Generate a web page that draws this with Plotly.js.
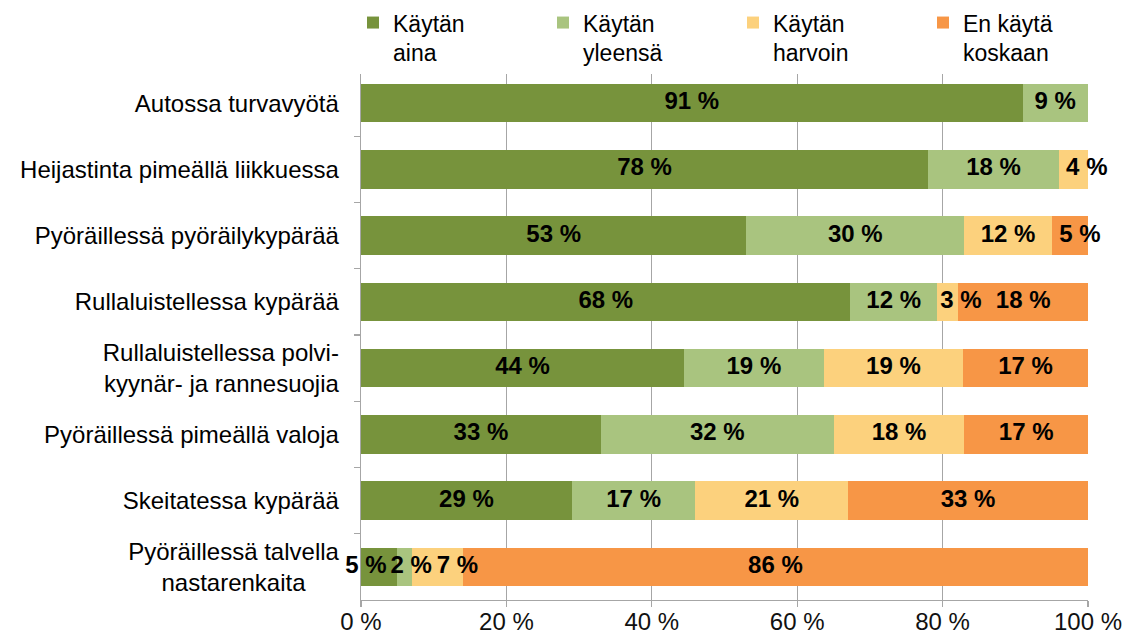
<!DOCTYPE html>
<html>
<head>
<meta charset="utf-8">
<script src="https://cdn.plot.ly/plotly-3.0.1.min.js"></script>
<style>html,body{margin:0;padding:0;background:#fff;}#chart{width:1129px;height:639px;}</style>
</head>
<body>
<div id="chart"></div>
<script>
const NB = "\u00a0";
const categories = [
  "Autossa turvavyötä",
  "Heijastinta pimeällä liikkuessa",
  "Pyöräillessä pyöräilykypärää",
  "Rullaluistellessa kypärää",
  "Rullaluistellessa polvi-<br>kyynär- ja rannesuojia",
  "Pyöräillessä pimeällä valoja",
  "Skeitatessa kypärää",
  "Pyöräillessä talvella<br>nastarenkaita" + NB.repeat(5)
];
const seriesNames = ["Käytän<br>aina", "Käytän<br>yleensä", "Käytän<br>harvoin", "En käytä<br>koskaan"];
const aina    = [91, 78, 53, 68, 44, 33, 29, 5];
const yleensa = [9, 18, 30, 12, 19, 32, 17, 2];
const harvoin = [0, 4, 12, 3, 19, 18, 21, 7];
const koskaan = [0, 0, 5, 18, 17, 17, 33, 86];
const xTicks = [0, 20, 40, 60, 80, 100];
const colors = ["#77933C", "#A9C47F", "#FCD17D", "#F79646"];

// label nudges (in non-breaking spaces; negative = shift left) mimicking the original label placement
const labelNudge = [
  [0, 0, 0, 0, 0, 0, 0, -4],
  [0, 0, 0, 0, 0, 0, 0, 2],
  [0, 4, 0, 4, 0, 0, 0, 6],
  [0, 0, 3, 0, 0, 0, 0, 0]
];

function label(v, n) {
  const t = v + " %";
  return n > 0 ? NB.repeat(n) + t : (n < 0 ? t + NB.repeat(-n) : t);
}

const seriesValues = [aina, yleensa, harvoin, koskaan];
const traces = seriesValues.map((vals, i) => ({
  type: "bar",
  orientation: "h",
  name: seriesNames[i],
  y: categories,
  x: vals,
  marker: {color: colors[i], line: {width: 0}},
  hoverinfo: "skip"
}));

// data labels drawn on top of all bars (positions derived from the normalised stack)
const totals = categories.map((_, j) => seriesValues.reduce((s, a) => s + a[j], 0));
const lx = [], ly = [], lt = [];
categories.forEach((c, j) => {
  let cum = 0;
  seriesValues.forEach((vals, i) => {
    const v = vals[j];
    if (v > 0) {
      lx.push((cum + v / 2) / totals[j] * 100);
      ly.push(c);
      lt.push(label(v, labelNudge[i][j]));
    }
    cum += v;
  });
});
traces.push({
  type: "scatter", mode: "text", x: lx, y: ly, text: lt,
  textposition: "middle center", cliponaxis: false, showlegend: false,
  textfont: {family: "Liberation Sans, Arial, sans-serif", size: 24, color: "#000", weight: "bold"},
  hoverinfo: "skip"
});

const layout = {
  width: 1129, height: 639,
  margin: {l: 361, r: 41, t: 70, b: 39, autoexpand: false},
  paper_bgcolor: "#fff", plot_bgcolor: "#fff",
  barmode: "stack",
  barnorm: "percent",
  bargap: 0.42,
  font: {family: "Liberation Sans, Arial, sans-serif", size: 24, color: "#000"},
  showlegend: true,
  legend: {
    orientation: "h", x: -0.011, xanchor: "left", y: 1.13, yanchor: "top",
    valign: "top", entrywidth: 145, entrywidthmode: "pixels",
    font: {size: 23, color: "#000"}, traceorder: "normal", itemclick: false
  },
  xaxis: {
    range: [0, 100.00001], tickvals: xTicks, ticktext: xTicks.map(v => v + " %"),
    showgrid: true, gridcolor: "#A6A6A6", gridwidth: 1.3,
    showline: true, linecolor: "#A6A6A6", linewidth: 1.3,
    ticks: "outside", ticklen: 6, tickcolor: "#A6A6A6", tickwidth: 1.3,
    ticklabelstandoff: -6,
    tickfont: {size: 24, color: "#111"}, zeroline: false, fixedrange: true
  },
  yaxis: {
    type: "category", autorange: "reversed",
    showline: true, linecolor: "#A6A6A6", linewidth: 1.3,
    ticks: "outside", tickson: "boundaries", ticklen: 6, tickcolor: "#A6A6A6", tickwidth: 1.3,
    showgrid: false, ticklabelstandoff: 16,
    tickfont: {size: 24, color: "#000"}, fixedrange: true
  }
};

Plotly.newPlot("chart", traces, layout, {displayModeBar: false, staticPlot: true});
</script>
</body>
</html>
